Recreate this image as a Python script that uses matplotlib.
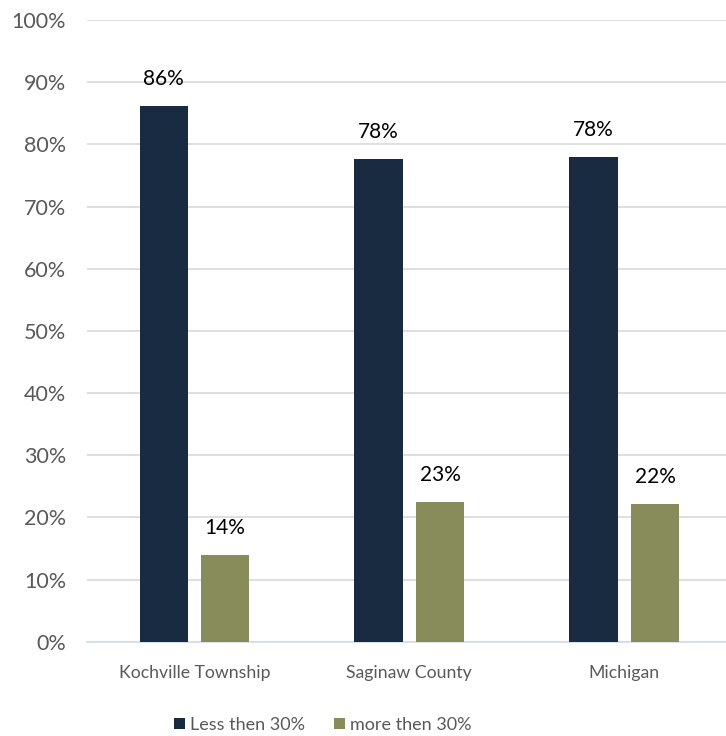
import numpy as np
import matplotlib
matplotlib.use("Agg")
import matplotlib.pyplot as plt
from matplotlib.ticker import PercentFormatter

places = ["Kochville Township", "Saginaw County", "Michigan"]
less_than_30 = [0.862, 0.777, 0.780]
more_than_30 = [0.140, 0.225, 0.222]
label_less = ["86%", "78%", "78%"]
label_more = ["14%", "23%", "22%"]

dark = "#182B41"
olive = "#878C5A"
tick_grey = "#595959"

plt.rcParams["font.family"] = ["Lato", "DejaVu Sans"]

W, H = 726, 736
fig = plt.figure(figsize=(W / 100, H / 100), dpi=100)
# axes spans 87..732 px horizontally, 20..642 px from the top
ax = fig.add_axes([87 / W, (H - 641.7) / H, (731.7 - 87) / W, (641.7 - 20) / H])

x = np.arange(len(places))
bw = 0.225
off = 0.143
b1 = ax.bar(x - off, less_than_30, bw, color=dark, label="Less then 30%", zorder=3)
b2 = ax.bar(x + off, more_than_30, bw, color=olive, label="more then 30%", zorder=3)

for bars, labels in ((b1, label_less), (b2, label_more)):
    for rect, txt in zip(bars, labels):
        ax.annotate(txt, (rect.get_x() + rect.get_width() / 2, rect.get_height()),
                    xytext=(0, 17), textcoords="offset pixels",
                    ha="center", va="bottom", fontsize=15, color="black")

ax.set_xlim(-0.5, 2.5)
ax.set_ylim(0, 1)
ax.set_yticks(np.arange(0, 1.01, 0.1))
ax.yaxis.set_major_formatter(PercentFormatter(1.0, decimals=0))
ax.set_xticks(x)
ax.set_xticklabels(places, fontsize=12.7)
ax.tick_params(axis="y", length=0, labelsize=15.5, labelcolor=tick_grey, pad=15)
ax.tick_params(axis="x", length=0, labelcolor=tick_grey, pad=17)

ax.grid(axis="y", color="#D9D9D9", linewidth=1.2, zorder=0)
for side in ("top", "right", "left"):
    ax.spines[side].set_visible(False)
ax.spines["bottom"].set_color("#CFDDEE")
ax.spines["bottom"].set_linewidth(1.2)

fig.legend(loc="center", bbox_to_anchor=(323 / W, (H - 725) / H), ncol=2,
           frameon=False, fontsize=13, handlelength=0.6, handleheight=0.6,
           handletextpad=0.3, columnspacing=1.6, labelcolor=tick_grey)

fig.savefig("out.png", dpi=100)
